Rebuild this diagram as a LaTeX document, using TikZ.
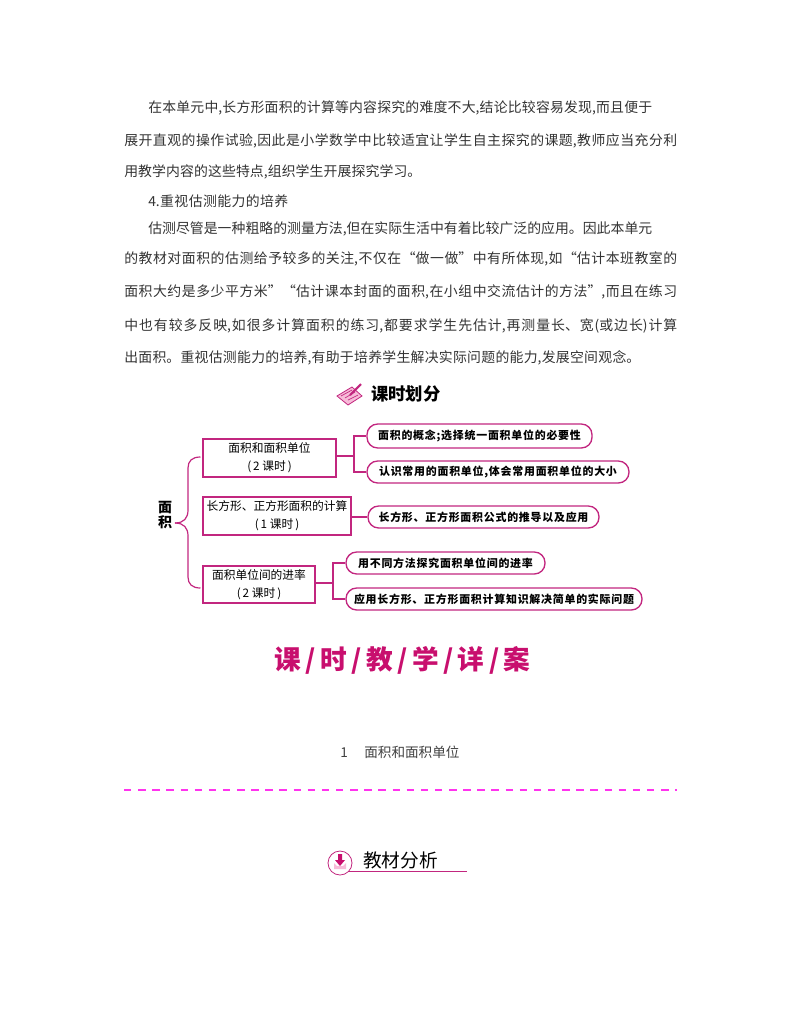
\documentclass[tikz,border=0pt]{standalone}
\usepackage{fontspec}
\setmainfont{Noto Sans CJK SC}
\newfontfamily\pillfont[LetterSpace=7]{Noto Sans CJK SC}
\XeTeXlinebreaklocale "zh"
\XeTeXlinebreakskip=0pt plus 3pt
\definecolor{rose}{HTML}{C2267F}
\definecolor{titlerose}{HTML}{C80F6E}
\definecolor{dashrose}{HTML}{FF33EE}
\definecolor{softrose}{HTML}{F7BBD8}
\tikzset{
  bodyline/.style={anchor=west,inner sep=0pt,text=black!80,text width=#1*0.75pt,align=justify,
    font=\fontsize{10.4pt}{12pt}\selectfont,execute at begin node={\tolerance=10000\hbadness=10000\parfillskip=0pt\relax}},
  boxnode/.style={draw=rose,line width=0.8pt,align=center,inner sep=0pt,font=\fontsize{8.8pt}{13.5pt}\selectfont},
  pillnode/.style={draw=rose,line width=1pt,rounded corners=8pt,inner sep=0pt,font=\pillfont\bfseries\fontsize{8.2pt}{9pt}\selectfont},
  linkline/.style={draw=rose,line width=0.9pt},
}
\begin{document}
\begin{tikzpicture}[x=0.75pt,y=-0.75pt]
\useasboundingbox (0,0) rectangle (800,1028);
% text above the plan
\node[bodyline=504] (line1) at (148,108) {在本单元中,长方形面积的计算等内容探究的难度不大,结论比较容易发现,而且便于};
\node[bodyline=553] (line2) at (124,141) {展开直观的操作试验,因此是小学数学中比较适宜让学生自主探究的课题,教师应当充分利};
\node[bodyline=297] (line3) at (124,172) {用教学内容的这些特点,组织学生开展探究学习。};
\node[bodyline=140] (line4) at (148,201) {4.重视估测能力的培养};
\node[bodyline=504] (line5) at (148,229) {估测尽管是一种粗略的测量方法,但在实际生活中有着比较广泛的应用。因此本单元};
\node[bodyline=553] (line6) at (124,259) {的教材对面积的估测给予较多的关注,不仅在“做一做”中有所体现,如“估计本班教室的};
\node[bodyline=553] (line7) at (124,292) {面积大约是多少平方米”“估计课本封面的面积,在小组中交流估计的方法”,而且在练习};
\node[bodyline=553] (line8) at (124,326) {中也有较多反映,如很多计算面积的练习,都要求学生先估计,再测量长、宽(或边长)计算};
\node[bodyline=516] (line9) at (124,358) {出面积。重视估测能力的培养,有助于培养学生解决实际问题的能力,发展空间观念。};
% book icon
\fill[softrose,draw=rose,line width=0.6pt] (337,396) -- (352,387) -- (362,396) -- (348,405) -- cycle;
\draw[rose,line width=0.5pt] (341,396) -- (352,390) (345,398) -- (355,392) (348,400) -- (358,395);
\draw[rose,line width=1.6pt] (350,395) -- (361,384);
\node[anchor=west,inner sep=0pt,font=\bfseries\fontsize{13pt}{15pt}\selectfont] (plantitle) at (371,394) {课时划分};
% plan
\node[boxnode,minimum width=99.75pt,minimum height=28.5pt] (box1) at (269.5,458) {面积和面积单位\\(\,2 课时\,)};
\node[boxnode,minimum width=111pt,minimum height=28.5pt] (box2) at (277,516) {长方形、正方形面积的计算\\(\,1 课时\,)};
\node[boxnode,minimum width=84pt,minimum height=27.75pt] (box3) at (259,584.5) {面积单位间的进率\\(\,2 课时\,)};
\node[pillnode,minimum width=168.75pt,minimum height=18pt] (pill1) at (479.5,436) {面积的概念;选择统一面积单位的必要性};
\node[pillnode,minimum width=196.5pt,minimum height=16.5pt] (pill2) at (498,472) {认识常用的面积单位,体会常用面积单位的大小};
\node[pillnode,minimum width=173.25pt,minimum height=16.5pt] (pill3) at (483.5,517) {长方形、正方形面积公式的推导以及应用};
\node[pillnode,minimum width=149.25pt,minimum height=16.5pt] (pill4) at (445.5,563) {用不同方法探究面积单位间的进率};
\node[pillnode,minimum width=222pt,minimum height=16.5pt] (pill5) at (494,599) {应用长方形、正方形面积计算知识解决简单的实际问题};
\node[inner sep=0pt,align=center,font=\bfseries\fontsize{10.5pt}{11.5pt}\selectfont] (topic) at (165,515) {面\\积};
\coordinate (fork1) at (354,456);
\coordinate (fork3) at (333,583);
\draw[linkline] (box1.east |- fork1) -- (fork1);
\draw[linkline] (fork1) |- (pill1.west);
\draw[linkline] (fork1) |- (pill2.west);
\draw[linkline] (box2.east |- pill3.west) -- (pill3.west);
\draw[linkline] (box3.east |- fork3) -- (fork3);
\draw[linkline] (fork3) |- (pill4.west);
\draw[linkline] (fork3) |- (pill5.west);
% brace
\coordinate (bracetip) at (175,523);
\draw[linkline] (box1.west |- 0,457) ++(-2,0) .. controls (192,457) and (188,461) .. (188,468) -- (188,510) .. controls (188,518) and (184,523) .. (bracetip);
\draw[linkline] (box3.west |- 0,588) ++(-2,0) .. controls (192,588) and (188,584) .. (188,577) -- (188,536) .. controls (188,528) and (184,523) .. (bracetip);
% lesson title
\node[inner sep=0pt,text=titlerose,font=\bfseries\fontsize{20pt}{24pt}\selectfont] (lessontitle) at (402.5,660) {课\,/\,时\,/\,教\,/\,学\,/\,详\,/\,案};
\node[inner sep=0pt,text=black!75,font=\fontsize{10.2pt}{12pt}\selectfont] (subtitle) at (400,752) {1\hspace{1.2em}面积和面积单位};
\coordinate (dashstart) at (124,790);
\coordinate (dashend) at (677,790);
\draw[dashrose,line width=1.1pt,dash pattern=on 5.6pt off 5pt] (dashstart) -- (dashend);
% analysis heading
\draw[rose,line width=0.7pt] (348,871.5) -- (467,871.5);
\fill[white,draw=rose,line width=0.6pt] (340,863) circle (9pt);
\fill[softrose] (334,863) -- (337,866) -- (343,866) -- (346,863) -- (346,869) -- (334,869) -- cycle;
\fill[titlerose] (338,854) -- (342,854) -- (342,860) -- (345,860) -- (340,866) -- (335,860) -- (338,860) -- cycle;
\node[anchor=west,inner sep=0pt,font=\fontsize{14pt}{16pt}\selectfont] (analysistitle) at (363,860) {教材分析};
\end{tikzpicture}
\end{document}
